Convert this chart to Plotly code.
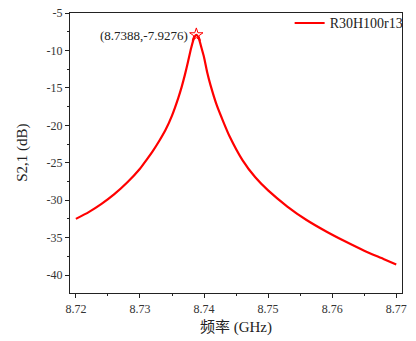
import plotly.graph_objects as go

# Data
freq_ghz = [8.7200, 8.7220, 8.7240, 8.7260, 8.7280, 8.7300, 8.7310, 8.7320, 8.7330,
            8.7340, 8.7350, 8.7360, 8.7365, 8.7370, 8.7375, 8.7380, 8.7384, 8.7388,
            8.7392, 8.7396, 8.7400, 8.7405, 8.7410, 8.7420, 8.7430, 8.7440, 8.7460,
            8.7480, 8.7500, 8.7530, 8.7560, 8.7590, 8.7620, 8.7650, 8.7680, 8.7700]
s21_db = [-32.5, -31.6, -30.5, -29.2, -27.65, -25.8, -24.65, -23.45, -22.1,
          -20.6, -18.7, -16.3, -14.9, -13.3, -11.5, -9.64, -8.43, -7.9276,
          -8.43, -9.64, -10.9, -12.95, -14.6, -17.35, -19.5, -21.5, -24.65,
          -26.95, -28.7, -30.85, -32.65, -34.15, -35.5, -36.75, -37.85, -38.6]
series_name = "R30H100r13"
peak_x = [8.7388]
peak_y = [-7.9276]
peak_label = "(8.7388,-7.9276)"

x_tickvals = [8.72, 8.73, 8.74, 8.75, 8.76, 8.77]
x_ticktext = ["8.72", "8.73", "8.74", "8.75", "8.76", "8.77"]
y_tickvals = [-5, -10, -15, -20, -25, -30, -35, -40]
y_ticktext = ["-5", "-10", "-15", "-20", "-25", "-30", "-35", "-40"]

FONT = "Liberation Serif, Times New Roman, Noto Sans CJK SC, serif"

fig = go.Figure()
fig.add_trace(go.Scatter(
    x=freq_ghz, y=s21_db, mode="lines", name=series_name,
    line=dict(color="#ff0000", width=2.2, shape="spline", smoothing=0.5),
))
fig.add_trace(go.Scatter(
    x=peak_x, y=peak_y, mode="markers", showlegend=False,
    marker=dict(symbol="star-open", size=10, color="#ff0000", line=dict(width=1)),
))
fig.add_annotation(
    x=peak_x[0], y=peak_y[0], xref="x", yref="y", text=peak_label,
    showarrow=False, xanchor="right", yanchor="middle", xshift=-6, yshift=-1,
    font=dict(family=FONT, size=13, color="#222"),
)
fig.add_annotation(
    x=-0.145, y=0.5, xref="paper", yref="paper", text="S2,1 (dB)",
    showarrow=False, textangle=-90, xanchor="center", yanchor="middle",
    font=dict(family=FONT, size=15, color="#222"),
)

axis_common = dict(
    showline=True, linecolor="#222", linewidth=1.2, mirror=True,
    ticks="outside", ticklen=4, tickcolor="#222", tickwidth=1,
    showgrid=False, zeroline=False,
    tickfont=dict(family=FONT, size=12, color="#333"),
)
fig.update_xaxes(
    range=[8.71908, 8.7709], tickmode="array", tickvals=x_tickvals, ticktext=x_ticktext,
    minor=dict(ticks="outside", ticklen=2, dtick=0.005, tick0=8.72, tickcolor="#222"),
    title=dict(text="频率 (GHz)", font=dict(family=FONT, size=15, color="#222"), standoff=6),
    **axis_common,
)
fig.update_yaxes(
    range=[-42.4, -5], tickmode="array", tickvals=y_tickvals, ticktext=y_ticktext,
    minor=dict(ticks="outside", ticklen=2, dtick=2.5, tick0=-5, tickcolor="#222"),
    **axis_common,
)
fig.update_layout(
    width=416, height=341,
    margin=dict(l=70, r=7, t=11, b=48),
    paper_bgcolor="white", plot_bgcolor="white",
    showlegend=True,
    legend=dict(x=1.02, y=1.02, xanchor="right", yanchor="top",
                bgcolor="rgba(0,0,0,0)", borderwidth=0,
                font=dict(family=FONT, size=14, color="#222")),
)
fig.write_html("out.html")
